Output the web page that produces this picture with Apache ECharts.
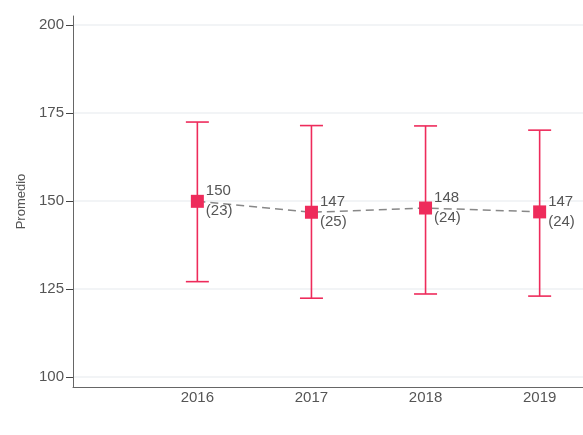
<!DOCTYPE html>
<html>
<head>
<meta charset="utf-8">
<script src="https://cdn.jsdelivr.net/npm/echarts@6/dist/echarts.min.js"></script>
<style>
  html, body { margin: 0; padding: 0; background: #fff; }
  #chart { width: 583px; height: 435px; }
</style>
</head>
<body>
<div id="chart"></div>
<script>
// valores
const years = [2016, 2017, 2018, 2019];
const means = [149.9, 146.8, 148.0, 146.9];
const lows = [127.1, 122.4, 123.6, 123.0];
const highs = [172.4, 171.4, 171.3, 170.1];
const meanText = ['150', '147', '148', '147'];
const nText = ['23', '25', '24', '24'];
const yTicks = [100, 125, 150, 175, 200];

const RED = '#EE2B5B';
const TXT = '#555';
const FONT = '"Liberation Sans", Arial, sans-serif';

const chart = echarts.init(document.getElementById('chart'));

const option = {
    animation: false,
    textStyle: { fontFamily: FONT },
    grid: { left: 73, right: 0, top: 16, bottom: 48 },
    xAxis: {
        type: 'value',
        min: 2014.91,
        max: 2019.38,
        axisLine: { show: true, lineStyle: { color: '#666', width: 1 } },
        axisTick: { show: false },
        splitLine: { show: false },
        axisLabel: {
            customValues: years,
            color: TXT,
            fontSize: 15,
            margin: 3,
            formatter: v => String(v)
        }
    },
    yAxis: {
        type: 'value',
        min: 97.2,
        max: 202.5,
        name: 'Promedio',
        nameLocation: 'middle',
        nameGap: 41,
        nameTextStyle: { color: TXT, fontSize: 13 },
        axisLine: { show: true, lineStyle: { color: '#666', width: 1 } },
        axisTick: { show: true, customValues: yTicks, length: 7, lineStyle: { color: '#444' } },
        splitLine: { show: true, customValues: yTicks, lineStyle: { color: '#eef1f3', width: 1.5 } },
        axisLabel: { customValues: yTicks, color: TXT, fontSize: 15, margin: 9 }
    },
    series: [
        {
            type: 'custom',
            z: 1,
            data: years.map((y, i) => [y, lows[i], highs[i]]),
            renderItem: (params, api) => {
                const x = api.value(0);
                const lo = api.coord([x, api.value(1)]);
                const hi = api.coord([x, api.value(2)]);
                const half = 11.5;
                const style = { stroke: RED, lineWidth: 1.6 };
                return {
                    type: 'group',
                    children: [
                        { type: 'line', shape: { x1: lo[0], y1: lo[1], x2: hi[0], y2: hi[1] }, style },
                        { type: 'line', shape: { x1: hi[0] - half, y1: hi[1], x2: hi[0] + half, y2: hi[1] }, style },
                        { type: 'line', shape: { x1: lo[0] - half, y1: lo[1], x2: lo[0] + half, y2: lo[1] }, style }
                    ]
                };
            }
        },
        {
            type: 'line',
            z: 3,
            data: years.map((y, i) => [y, means[i]]),
            symbol: 'rect',
            symbolSize: 13,
            itemStyle: { color: RED },
            lineStyle: { color: '#888', width: 1.5, type: [8, 5] },
            label: {
                show: true,
                position: 'right',
                distance: 2,
                color: TXT,
                fontSize: 15,
                lineHeight: 20,
                formatter: p => meanText[p.dataIndex] + '\n(' + nText[p.dataIndex] + ')'
            }
        }
    ]
};

chart.setOption(option);
</script>
</body>
</html>
